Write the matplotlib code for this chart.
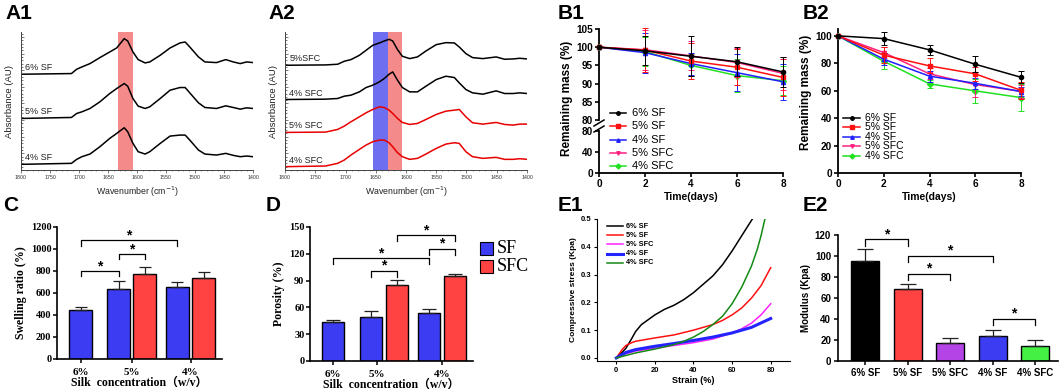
import matplotlib.pyplot as plt
from matplotlib.lines import Line2D
from matplotlib.patches import Rectangle
from matplotlib.ticker import MultipleLocator, FormatStrFormatter

plt.rcParams['font.family'] = ['Liberation Sans', 'DejaVu Sans']

# ---------------- data ----------------
# A1 FTIR (wavenumber, absorbance offset per sample)
wn_a1 = [1800, 1713, 1704, 1695, 1681, 1664, 1647, 1635, 1629, 1622, 1616, 1607, 1598, 1586,
         1578, 1560, 1543, 1526, 1517, 1509, 1494, 1483, 1463, 1447, 1434, 1422, 1411, 1400]
a1_sf6 = [2.88, 2.90, 3.03, 3.10, 3.20, 3.38, 3.55, 3.67, 3.80, 3.95, 3.88, 3.55, 3.32, 3.22,
          3.25, 3.45, 3.67, 3.82, 3.85, 3.70, 3.40, 3.25, 3.23, 3.32, 3.25, 3.20, 3.25, 3.23]
a1_sf5 = [1.55, 1.58, 1.70, 1.75, 1.85, 2.05, 2.30, 2.45, 2.52, 2.60, 2.52, 2.15, 1.92, 1.85,
          1.90, 2.15, 2.40, 2.48, 2.48, 2.32, 2.02, 1.88, 1.85, 1.93, 1.88, 1.83, 1.87, 1.85]
a1_sf4 = [0.17, 0.20, 0.32, 0.40, 0.48, 0.70, 0.95, 1.10, 1.18, 1.27, 1.15, 0.80, 0.55, 0.48,
          0.55, 0.80, 1.02, 1.05, 1.05, 0.90, 0.60, 0.48, 0.45, 0.50, 0.44, 0.40, 0.42, 0.40]
a1_labels = ['6% SF', '5% SF', '4% SF']

# A2 FTIR
wn_a2 = [1800, 1733, 1713, 1702, 1691, 1677, 1666, 1655, 1644, 1636, 1628, 1622, 1614, 1606,
         1594, 1581, 1567, 1550, 1534, 1520, 1512, 1501, 1490, 1473, 1451, 1437, 1423, 1412, 1400]
a2_sfc5_k = [3.15, 3.16, 3.18, 3.27, 3.32, 3.45, 3.60, 3.75, 3.82, 3.88, 3.93, 3.88, 3.62, 3.42,
             3.35, 3.40, 3.58, 3.77, 3.83, 3.82, 3.70, 3.50, 3.38, 3.35, 3.40, 3.33, 3.34, 3.36, 3.34]
a2_sfc4_k = [2.12, 2.13, 2.15, 2.22, 2.25, 2.35, 2.48, 2.55, 2.65, 2.75, 2.88, 2.95, 2.70, 2.48,
             2.35, 2.35, 2.52, 2.72, 2.82, 2.78, 2.62, 2.42, 2.32, 2.28, 2.38, 2.30, 2.30, 2.32, 2.30]
a2_sfc5_r = [1.13, 1.14, 1.22, 1.32, 1.45, 1.60, 1.72, 1.82, 1.90, 1.88, 1.80, 1.70, 1.55, 1.43,
             1.37, 1.40, 1.52, 1.67, 1.77, 1.80, 1.82, 1.60, 1.42, 1.38, 1.43, 1.37, 1.35, 1.38, 1.38]
a2_sfc4_r = [0.10, 0.12, 0.20, 0.30, 0.45, 0.62, 0.75, 0.85, 0.90, 0.90, 0.82, 0.70, 0.52, 0.40,
             0.32, 0.35, 0.48, 0.65, 0.78, 0.82, 0.80, 0.55, 0.40, 0.35, 0.38, 0.32, 0.32, 0.34, 0.32]
a2_labels = ['5%SFC', '4% SFC', '5% SFC', '4% SFC']

# B degradation
days = [0, 2, 4, 6, 8]
b_labels = ['6% SF', '5% SF', '4% SF', '5% SFC', '4% SFC']
b1_mean = [[100, 99.0, 97.5, 96.0, 93.2],
           [100, 99.2, 96.2, 94.5, 91.7],
           [100, 98.5, 95.5, 93.0, 90.5],
           [100, 99.3, 97.6, 95.8, 92.8],
           [100, 98.8, 95.0, 92.2, 90.8]]
b1_err = [[0, 4.0, 5.5, 4.0, 4.0],
          [0, 6.0, 5.0, 5.0, 5.0],
          [0, 5.5, 3.0, 5.0, 5.0],
          [0, 5.5, 4.0, 4.0, 4.5],
          [0, 4.0, 3.0, 4.5, 4.0]]
b2_mean = [[100, 98.0, 89.8, 79.3, 69.8],
           [100, 85.9, 78.1, 72.3, 60.3],
           [100, 83.0, 70.6, 65.4, 59.4],
           [100, 87.8, 72.3, 64.5, 59.5],
           [100, 81.5, 65.0, 59.9, 55.0]]
b2_err = [[0, 5.0, 3.5, 6.0, 4.5],
          [0, 6.0, 5.5, 5.0, 6.0],
          [0, 4.5, 4.0, 4.0, 3.5],
          [0, 4.0, 4.0, 9.0, 5.0],
          [0, 6.0, 3.0, 9.0, 10.0]]

# C swelling ratio / D porosity (6% SF, 5% SF, 5% SFC, 4% SF, 4% SFC)
groups = ['6%', '5%', '4%']
c_vals = [446, 636, 775, 651, 739]
c_err = [30, 72, 63, 45, 48]
c_sig = [(0, 3, 1079), (1, 2, 953), (0, 1, 799)]
d_vals = [43.1, 48.8, 84.8, 54.0, 95.3]
d_err = [2.6, 6.7, 6.3, 3.8, 2.6]
d_sig = [(2, 4, 140.6), (3, 4, 125.6), (0, 3, 115.1), (1, 2, 100.9)]

# E1 stress-strain
e1_labels = ['6% SF', '5% SF', '5% SFC', '4% SF', '4% SFC']
e1_sf6_x = [0, 3, 5, 8, 10, 13, 17, 20, 25, 30, 35, 40, 45, 50, 55, 60, 65, 70.5]
e1_sf6_y = [0, 0.02, 0.035, 0.07, 0.095, 0.12, 0.14, 0.155, 0.175, 0.19, 0.21, 0.235,
            0.265, 0.295, 0.335, 0.385, 0.44, 0.5]
e1_sf5_x = [0, 3, 5, 8, 10, 20, 30, 40, 50, 55, 60, 65, 70, 75, 80]
e1_sf5_y = [0, 0.03, 0.045, 0.055, 0.06, 0.072, 0.083, 0.1, 0.12, 0.135, 0.155, 0.18,
            0.215, 0.26, 0.325]
e1_sfc5_x = [0, 5, 10, 20, 30, 40, 50, 60, 65, 70, 75, 80]
e1_sfc5_y = [0, 0.015, 0.025, 0.035, 0.045, 0.055, 0.068, 0.09, 0.105, 0.125, 0.155, 0.195]
e1_sf4_x = [0, 5, 10, 20, 30, 40, 50, 60, 70, 80]
e1_sf4_y = [0, 0.02, 0.03, 0.042, 0.052, 0.063, 0.075, 0.09, 0.11, 0.142]
e1_sfc4_x = [0, 10, 20, 30, 35, 40, 45, 50, 55, 60, 65, 70, 73, 75, 77]
e1_sfc4_y = [0, 0.018, 0.032, 0.048, 0.06, 0.075, 0.095, 0.12, 0.15, 0.195, 0.255, 0.33,
             0.39, 0.44, 0.5]

# E2 modulus
e2_labels = ['6% SF', '5% SF', '5% SFC', '4% SF', '4% SFC']
e2_vals = [95.5, 68.2, 17.2, 23.9, 14.6]
e2_err = [11.5, 5.4, 5.1, 6.0, 5.5]
e2_sig = [(0, 1, 115.9), (1, 3, 100.0), (1, 2, 82.8), (3, 4, 40.4)]

# ---------------- helpers ----------------
W, H = 1059, 389
fig = plt.figure(figsize=(W / 100, H / 100), dpi=100)


def fx(x):
    return x / W


def fy(y):
    return 1 - y / H


def ax_px(x0, y0, x1, y1):
    return fig.add_axes([x0 / W, 1 - y1 / H, (x1 - x0) / W, (y1 - y0) / H])


def bold_ticks(ax, family=None):
    for t in ax.get_xticklabels() + ax.get_yticklabels():
        t.set_fontweight('bold')
        if family:
            t.set_family(family)


def px_legend(entries, x0, x1, xt, y0, dy, size, weight='normal', ms=3):
    for i, (lab, col, mk, lw) in enumerate(entries):
        y = fy(y0 + i * dy)
        fig.add_artist(Line2D([fx(x0), fx((x0 + x1) / 2), fx(x1)], [y, y, y], color=col, lw=lw,
                              marker=mk, markevery=[1], ms=ms))
        fig.text(fx(xt), y, lab, fontsize=size, fontweight=weight, va='center', ha='left')


def bracket(ax, x1, x2, y, drop):
    ax.plot([x1, x1, x2, x2], [y - drop, y, y, y - drop], color='k', lw=0.9, clip_on=False)
    ax.annotate('*', ((x1 + x2) / 2, y), xytext=(0, 0.8), textcoords='offset points',
                ha='center', va='baseline', fontsize=10, fontweight='bold', annotation_clip=False)


def ftir_style(ax):
    ax.set_xlim(1800, 1400)
    ax.set_ylim(0, 4.15)
    ax.spines['top'].set_visible(False)
    ax.spines['right'].set_visible(False)
    for s in ['left', 'bottom']:
        ax.spines[s].set_color('#444444')
        ax.spines[s].set_linewidth(0.7)
    ax.xaxis.set_major_locator(MultipleLocator(50))
    ax.xaxis.set_minor_locator(MultipleLocator(10))
    ax.yaxis.set_major_locator(MultipleLocator(0.5))
    ax.yaxis.set_minor_locator(MultipleLocator(0.1))
    ax.tick_params(axis='y', which='both', direction='in', labelleft=False, width=0.5,
                   color='#444444')
    ax.tick_params(axis='y', which='major', length=2.2)
    ax.tick_params(axis='y', which='minor', length=1.2)
    ax.tick_params(axis='x', which='major', labelsize=3.8, length=2.2, width=0.5, pad=1.5,
                   color='#444444', labelcolor='#333333')
    ax.tick_params(axis='x', which='minor', length=1.0, width=0.4, color='#444444')
    ax.set_xlabel('Wavenumber (cm$^{-1}$)', fontsize=6.3, labelpad=3, color='#222222')
    ax.set_ylabel('Absorbance (AU)', fontsize=6.8, labelpad=5, color='#222222')


def b_style(ax):
    ax.spines['top'].set_visible(False)
    ax.spines['right'].set_visible(False)
    for s in ['left', 'bottom']:
        ax.spines[s].set_linewidth(1.3)
    ax.tick_params(labelsize=7.2, width=1.2, length=3, pad=1.5)
    ax.set_xlim(0, 8)


# ---------------- A1 ----------------
ax = ax_px(21, 32, 253, 170)
ftir_style(ax)
ax.axvspan(1633, 1607, color='#F48A8A', lw=0, zorder=0)
for yv, lab in zip([a1_sf6, a1_sf5, a1_sf4], a1_labels):
    ax.plot(wn_a1, yv, color='black', lw=1.1)
    ax.text(1793, yv[0] + 0.06, lab, fontsize=6.5, va='bottom', ha='left', color='#222222')

# ---------------- A2 ----------------
ax = ax_px(285, 32, 527, 170)
ftir_style(ax)
ax.axvspan(1655, 1630, color='#6E6EF0', lw=0, zorder=0)
ax.axvspan(1630, 1607, color='#F48A8A', lw=0, zorder=0)
for yv, lab, col in zip([a2_sfc5_k, a2_sfc4_k, a2_sfc5_r, a2_sfc4_r], a2_labels,
                        ['black', 'black', '#E80000', '#E80000']):
    ax.plot(wn_a2, yv, color=col, lw=1.1)
    ax.text(1793, yv[0] + 0.06, lab, fontsize=6.5, va='bottom', ha='left', color='#222222')

# ---------------- B1 (broken axis) ----------------
b_colors = ['black', '#FF1010', '#2020FF', '#FF2080', '#20E020']
b_markers = ['o', 's', '^', 'v', 'D']
axt = ax_px(599, 29, 783, 120)
axb = ax_px(599, 131, 783, 173)
for a in (axt, axb):
    b_style(a)
axt.set_ylim(80, 105)
axt.set_yticks([80, 85, 90, 95, 100, 105])
axt.spines['bottom'].set_visible(False)
axt.tick_params(axis='x', which='both', bottom=False, labelbottom=False)
axb.set_ylim(0, 80)
axb.set_yticks([0, 40, 80])
axb.set_xticks(days)
axb.set_xlabel('Time(days)', fontsize=7.5, fontweight='bold', labelpad=2)
for i in reversed(range(5)):
    axt.errorbar(days, b1_mean[i], yerr=b1_err[i], color=b_colors[i], marker=b_markers[i],
                 ms=3, lw=1.1, elinewidth=0.7, capsize=2, capthick=0.7, clip_on=False,
                 zorder=3 + (5 - i))
bold_ticks(axt)
bold_ticks(axb)
for yy in (123, 129):
    fig.add_artist(Line2D([fx(594), fx(604)], [fy(yy + 3), fy(yy - 3)], color='k', lw=1.1))
fig.text(fx(567), fy(98), 'Remaining mass (%)', rotation=90, fontsize=8.5, fontweight='bold',
         ha='center', va='center')
px_legend([(lab, c, m, 1.1) for lab, c, m in zip(b_labels, b_colors, b_markers)],
          610, 626, 632, 113, 13.3, 8, ms=2.5)

# ---------------- B2 ----------------
ax = ax_px(838, 29, 1021, 173)
b_style(ax)
ax.set_ylim(0, 105)
ax.set_yticks([0, 20, 40, 60, 80, 100])
ax.set_xticks(days)
ax.set_xlabel('Time(days)', fontsize=7.5, fontweight='bold', labelpad=2)
for i in reversed(range(5)):
    ax.errorbar(days, b2_mean[i], yerr=b2_err[i], color=b_colors[i], marker=b_markers[i],
                ms=3, lw=1.1, elinewidth=0.7, capsize=2, capthick=0.7, clip_on=False,
                zorder=3 + (5 - i))
bold_ticks(ax)
fig.text(fx(806), fy(92), 'Remaining mass (%)', rotation=90, fontsize=8.5, fontweight='bold',
         ha='center', va='center')
px_legend([(lab, c, m, 1.1) for lab, c, m in zip(b_labels, b_colors, b_markers)],
          843, 860, 865, 118, 9.4, 7.5, ms=2.5)

# ---------------- C / D bars ----------------
serif = ['Liberation Serif', 'Noto Sans CJK SC']
bar_pos = [0.9, 2.35, 3.35, 4.6, 5.6]
bar_cols = ['#3C3CF2', '#3C3CF2', '#FF4242', '#3C3CF2', '#FF4242']


def cd_panel(box, vals, errs, sig, ylim, ystep, ylab, group_x, drop, capsize):
    ax = ax_px(*box)
    ax.bar(bar_pos, vals, width=0.86, color=bar_cols, edgecolor='black', lw=1.0,
           yerr=[[0] * len(vals), errs], capsize=capsize,
           error_kw=dict(elinewidth=0.9, capthick=0.9, ecolor='#222222'), zorder=2)
    ax.set_xlim(0, 6.3)
    ax.set_ylim(0, ylim)
    ax.yaxis.set_major_locator(MultipleLocator(ystep))
    ax.set_xticks(group_x)
    ax.set_xticklabels(groups)
    ax.spines['top'].set_visible(False)
    ax.spines['right'].set_visible(False)
    for s in ['left', 'bottom']:
        ax.spines[s].set_linewidth(1.2)
    ax.tick_params(axis='y', labelsize=7.5, width=1.1, length=3, pad=1)
    ax.tick_params(axis='x', labelsize=8, width=1.1, length=3, pad=3.5)
    bold_ticks(ax, family=serif)
    ax.set_ylabel(ylab, fontsize=8.5, fontweight='bold', family=serif, labelpad=3)
    ax.set_xlabel('Silk  concentration（w/v）', fontsize=8.5, fontweight='bold', family=serif,
                  labelpad=0)
    for i, j, y in sig:
        bracket(ax, bar_pos[i], bar_pos[j], y, drop)
    return ax


cd_panel((57, 227, 222, 359), c_vals, c_err, c_sig, 1200, 200, 'Swelling ratio (%)',
         [0.9, 2.85, 5.1], 48, 4)
cd_panel((310, 227, 473, 361), d_vals, d_err, d_sig, 150, 30, 'Porosity (%)',
         [0.9, 2.6, 5.1], 6.5, 5)

# SF / SFC legend
for k, (lab, col) in enumerate([('SF', '#3C3CF2'), ('SFC', '#FF4242')]):
    yt = 242 + k * 18
    fig.add_artist(Rectangle((fx(480), fy(yt + 13)), 13 / W, 13 / H, transform=fig.transFigure,
                             facecolor=col, edgecolor='black', lw=0.8))
    fig.text(fx(497), fy(yt + 6.5), lab, fontsize=13, family='Liberation Serif',
             va='center', ha='left')

# ---------------- E1 ----------------
ax = ax_px(597, 219, 790, 361)
e1_cols = ['black', '#FF1010', '#FF20FF', '#2424FF', '#138A13']
e1_lw = [1.1, 1.1, 1.1, 2.2, 1.1]
for xs, ys, c, lw in zip([e1_sf6_x, e1_sf5_x, e1_sfc5_x, e1_sf4_x, e1_sfc4_x],
                         [e1_sf6_y, e1_sf5_y, e1_sfc5_y, e1_sf4_y, e1_sfc4_y], e1_cols, e1_lw):
    ax.plot(xs, ys, color=c, lw=lw)
ax.set_xlim(-10, 90)
ax.set_ylim(-0.011, 0.5)
ax.set_xticks([0, 20, 40, 60, 80])
ax.set_yticks([0, 0.1, 0.2, 0.3, 0.4, 0.5])
ax.yaxis.set_major_formatter(FormatStrFormatter('%.1f'))
ax.spines['top'].set_visible(False)
ax.spines['right'].set_visible(False)
ax.tick_params(labelsize=5.5, width=0.8, length=2.5, pad=1.5)
bold_ticks(ax)
ax.set_xlabel('Strain (%)', fontsize=6.5, fontweight='bold', labelpad=2)
ax.set_ylabel('Compressive stress (Kpa)', fontsize=6, fontweight='bold', labelpad=3)
px_legend([(lab, c, None, lw) for lab, c, lw in zip(e1_labels, e1_cols, e1_lw)],
          607, 623, 626, 226, 9.2, 5.3, weight='bold')

# ---------------- E2 ----------------
ax = ax_px(838, 235, 1058, 361)
e2_cols = ['#000000', '#FF4242', '#B444E6', '#3C3CF2', '#44F044']
e2_x = list(range(5))
ax.bar(e2_x, e2_vals, width=0.66, color=e2_cols, edgecolor='black', lw=1.0,
       yerr=[[0] * 5, e2_err], capsize=6,
       error_kw=dict(elinewidth=0.9, capthick=0.9, ecolor='#222222'), zorder=2)
ax.set_xlim(-0.64, 4.54)
ax.set_ylim(0, 120)
ax.yaxis.set_major_locator(MultipleLocator(20))
ax.set_xticks(e2_x)
ax.set_xticklabels(e2_labels)
ax.spines['top'].set_visible(False)
ax.spines['right'].set_visible(False)
for s in ['left', 'bottom']:
    ax.spines[s].set_linewidth(1.2)
ax.tick_params(labelsize=7, width=1.1, length=3, pad=2)
bold_ticks(ax)
ax.set_ylabel('Modulus (Kpa)', fontsize=7, fontweight='bold', labelpad=3)
for i, j, y in e2_sig:
    bracket(ax, e2_x[i], e2_x[j], y, 6)

# ---------------- panel letters ----------------
for lab, x, y in [('A1', 5, 4), ('A2', 268, 4), ('B1', 558, 4), ('B2', 803, 4),
                  ('C', 3, 196), ('D', 266, 196), ('E1', 558, 196), ('E2', 803, 196)]:
    fig.text(fx(x), fy(y), lab, fontsize=15, fontweight='bold', va='top', ha='left')

fig.savefig('out.png', dpi=100)
